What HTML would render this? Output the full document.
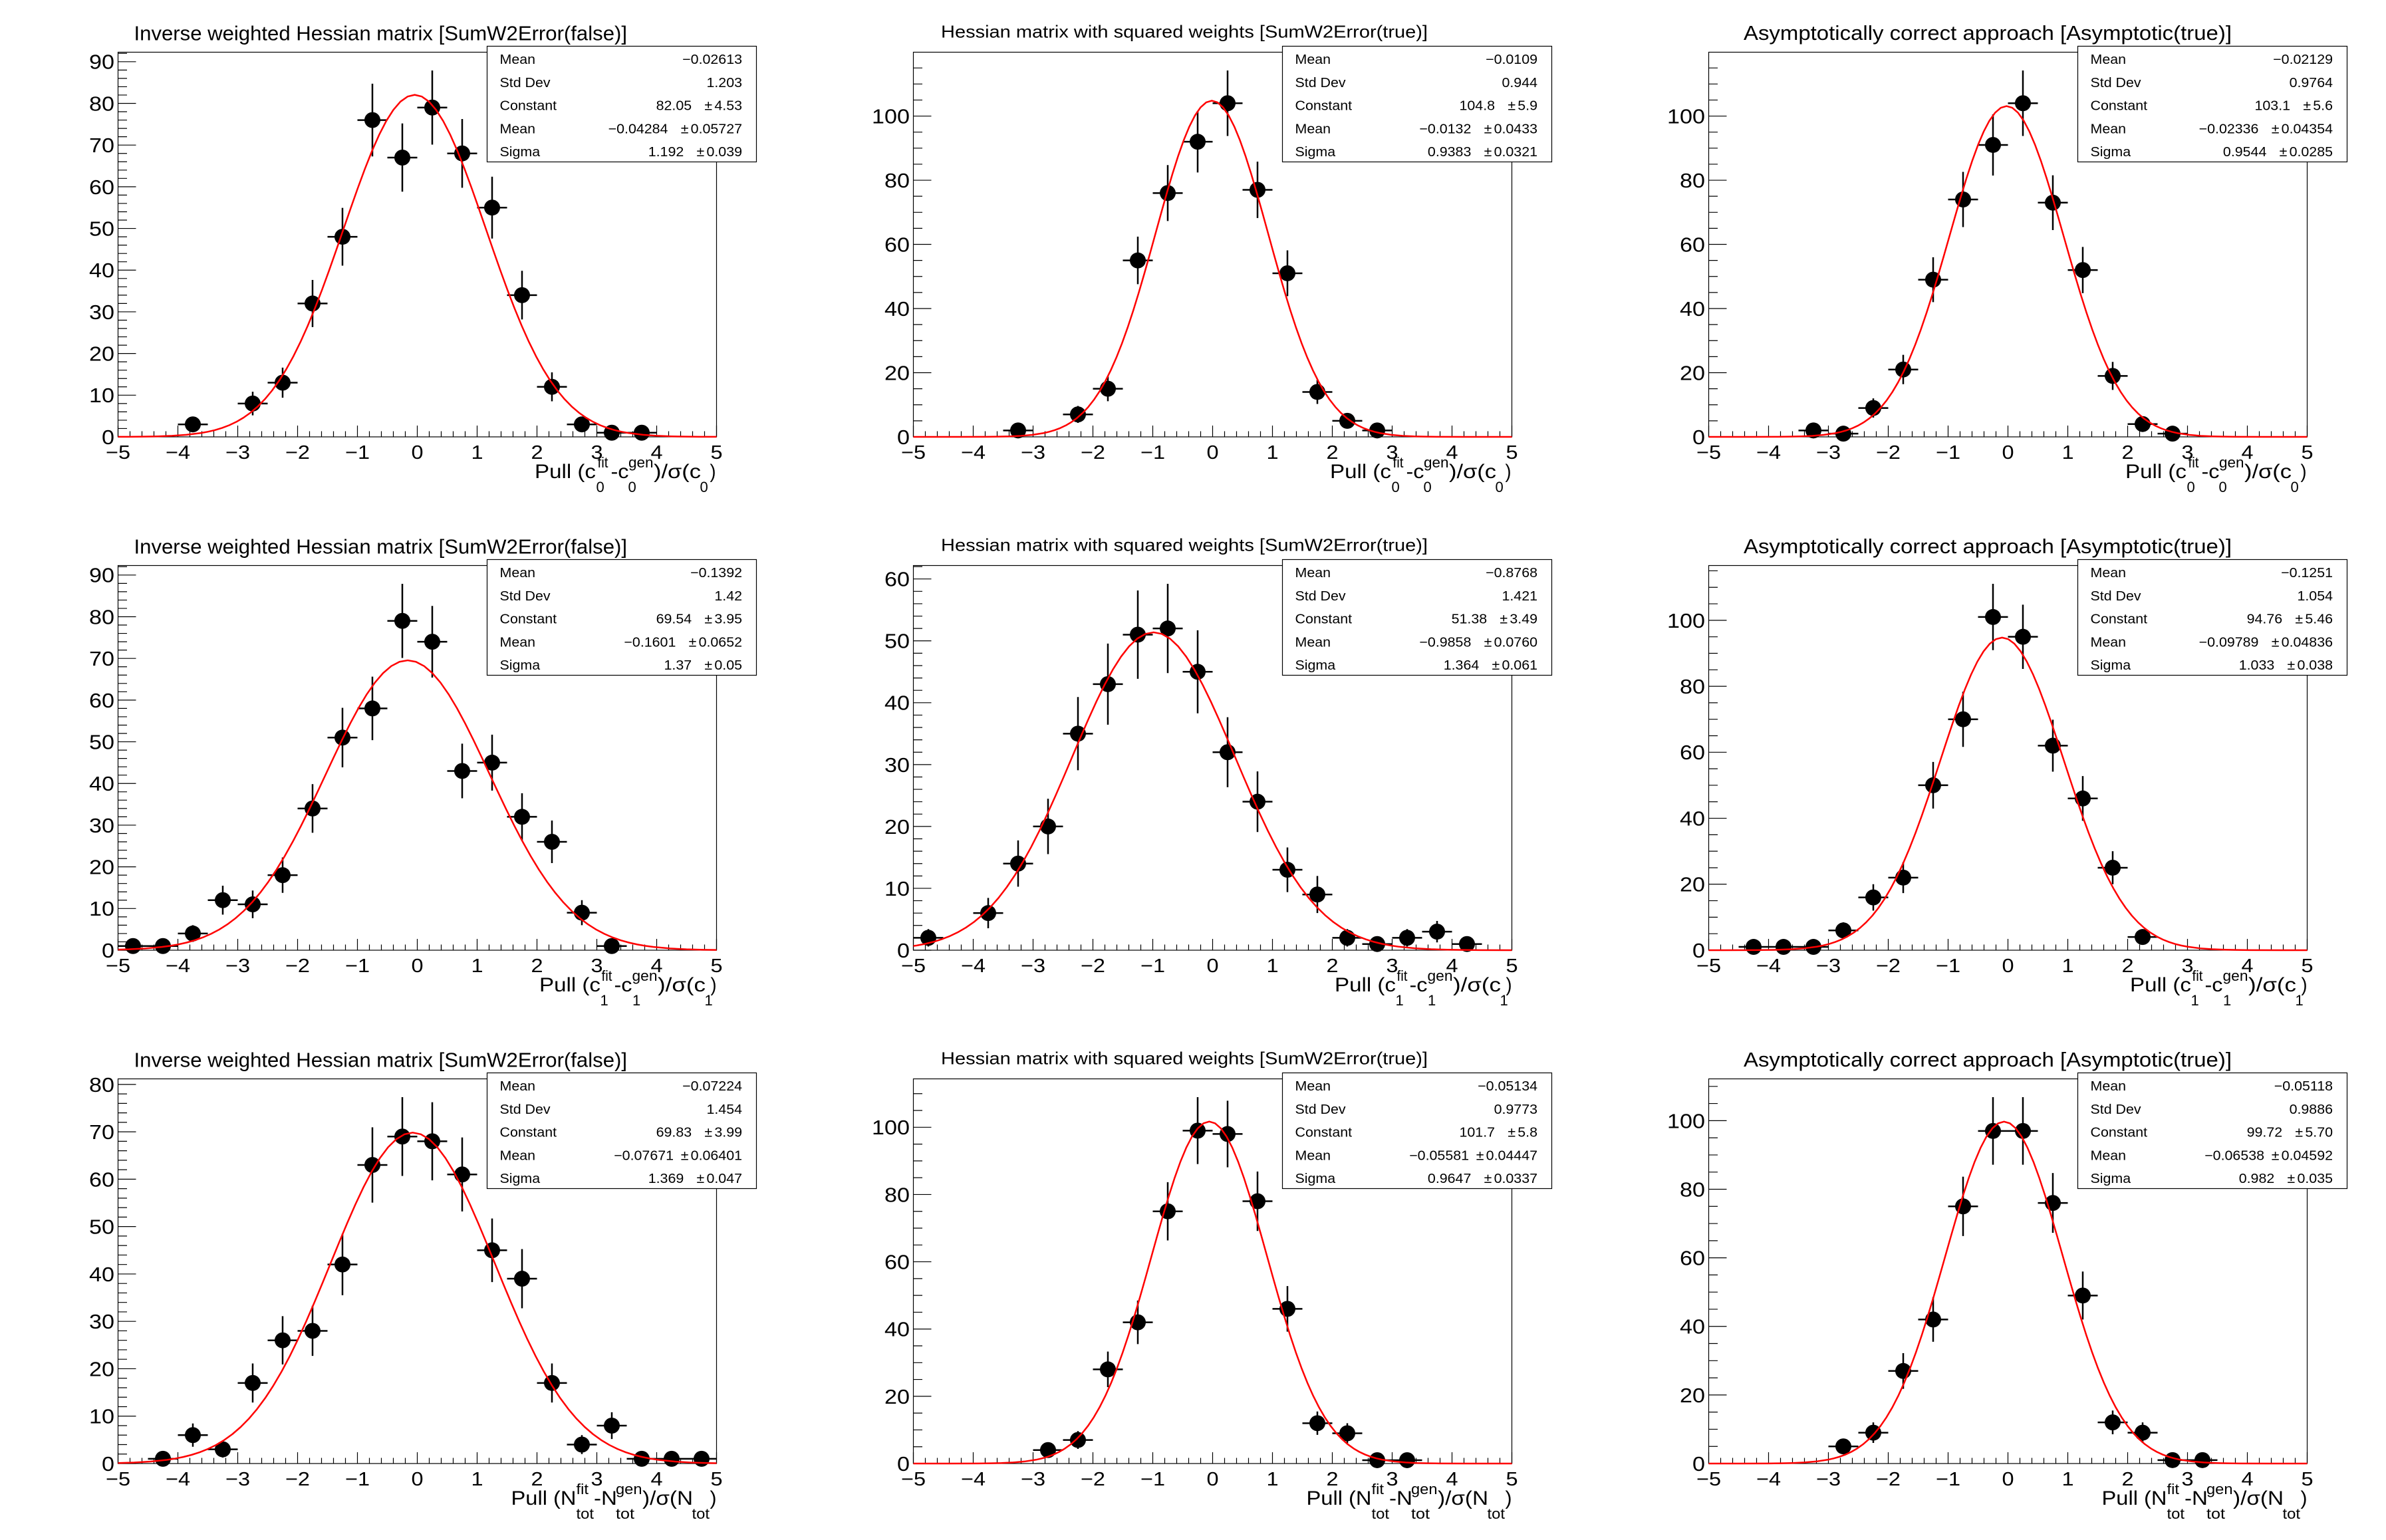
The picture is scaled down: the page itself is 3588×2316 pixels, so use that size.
<!DOCTYPE html>
<html><head><meta charset="utf-8"><title>Pulls</title>
<style>
html,body{margin:0;padding:0;background:#fff}
svg{display:block}
text{font-family:"Liberation Sans",Arial,Helvetica,sans-serif;fill:#000}
.eb{fill:none;stroke:#000;stroke-width:2.5}
.mk{fill:none;stroke:#000;stroke-width:24;stroke-linecap:round}
.fit{fill:none;stroke:#f00;stroke-width:2.5;vector-effect:non-scaling-stroke;stroke-linejoin:round}
.tk{fill:none;stroke:#000;stroke-width:1.2}
.sb{fill:#fff;stroke:#000;stroke-width:1.2}
</style></head><body>
<svg width="3588" height="2316" viewBox="0 0 3588 2316">
<defs>
<clipPath id="fc"><rect x="177.5" y="40" width="900" height="620"/></clipPath>
<rect id="fr" x="177.5" y="78.5" width="900" height="578.5" fill="none" stroke="#000" stroke-width="1.2"/>
<path id="xt" fill="none" stroke="#000" stroke-width="1.2" d="M177.5,657v-17M195.5,657v-8.5M213.5,657v-8.5M231.5,657v-8.5M249.5,657v-8.5M267.5,657v-17M285.5,657v-8.5M303.5,657v-8.5M321.5,657v-8.5M339.5,657v-8.5M357.5,657v-17M375.5,657v-8.5M393.5,657v-8.5M411.5,657v-8.5M429.5,657v-8.5M447.5,657v-17M465.5,657v-8.5M483.5,657v-8.5M501.5,657v-8.5M519.5,657v-8.5M537.5,657v-17M555.5,657v-8.5M573.5,657v-8.5M591.5,657v-8.5M609.5,657v-8.5M627.5,657v-17M645.5,657v-8.5M663.5,657v-8.5M681.5,657v-8.5M699.5,657v-8.5M717.5,657v-17M735.5,657v-8.5M753.5,657v-8.5M771.5,657v-8.5M789.5,657v-8.5M807.5,657v-17M825.5,657v-8.5M843.5,657v-8.5M861.5,657v-8.5M879.5,657v-8.5M897.5,657v-17M915.5,657v-8.5M933.5,657v-8.5M951.5,657v-8.5M969.5,657v-8.5M987.5,657v-17M1005.5,657v-8.5M1023.5,657v-8.5M1041.5,657v-8.5M1059.5,657v-8.5M1077.5,657v-17"/>
<path id="yt14" fill="none" stroke="#000" stroke-width="1.2" d="M177.5,657h27M177.5,594.31h27M177.5,531.62h27M177.5,468.94h27M177.5,406.25h27M177.5,343.56h27M177.5,280.87h27M177.5,218.18h27M177.5,155.5h27M177.5,92.81h27M177.5,644.46h13.5M177.5,631.92h13.5M177.5,619.39h13.5M177.5,606.85h13.5M177.5,581.77h13.5M177.5,569.24h13.5M177.5,556.7h13.5M177.5,544.16h13.5M177.5,519.09h13.5M177.5,506.55h13.5M177.5,494.01h13.5M177.5,481.47h13.5M177.5,456.4h13.5M177.5,443.86h13.5M177.5,431.32h13.5M177.5,418.79h13.5M177.5,393.71h13.5M177.5,381.17h13.5M177.5,368.64h13.5M177.5,356.1h13.5M177.5,331.02h13.5M177.5,318.48h13.5M177.5,305.95h13.5M177.5,293.41h13.5M177.5,268.33h13.5M177.5,255.8h13.5M177.5,243.26h13.5M177.5,230.72h13.5M177.5,205.65h13.5M177.5,193.11h13.5M177.5,180.57h13.5M177.5,168.03h13.5M177.5,142.96h13.5M177.5,130.42h13.5M177.5,117.88h13.5M177.5,105.35h13.5M177.5,80.27h13.5"/>
<path id="yt23" fill="none" stroke="#000" stroke-width="1.2" d="M177.5,657h27M177.5,560.51h27M177.5,464.02h27M177.5,367.53h27M177.5,271.04h27M177.5,174.55h27M177.5,632.88h13.5M177.5,608.76h13.5M177.5,584.63h13.5M177.5,536.39h13.5M177.5,512.27h13.5M177.5,488.14h13.5M177.5,439.9h13.5M177.5,415.78h13.5M177.5,391.65h13.5M177.5,343.41h13.5M177.5,319.29h13.5M177.5,295.16h13.5M177.5,246.92h13.5M177.5,222.8h13.5M177.5,198.67h13.5M177.5,150.43h13.5M177.5,126.31h13.5M177.5,102.18h13.5"/>
</defs>
<rect x="0" y="0" width="3588" height="2316" fill="#fff"/>

<!-- ============ PAD 1 ============ -->
<g transform="translate(0,0)">
<use href="#fr"/><use href="#xt"/><use href="#yt14"/>
<path class="eb" d="M290,627.33V649.05M267.5,638.19h45M380,589.12V624.58M357.5,606.85h45M425,552.91V598.11M402.5,575.51h45M470,420.94V491.86M447.5,456.4h45M515,312.67V399.53M492.5,356.1h45M560,125.92V235.22M537.5,180.57h45M605,185.68V288.3M582.5,236.99h45M650,106.04V217.48M627.5,161.76h45M695,179.03V282.41M672.5,230.72h45M740,265.73V358.71M717.5,312.22h45M785,407.31V480.41M762.5,443.86h45M830,560.05V603.49M807.5,581.77h45M875,627.33V649.05M852.5,638.19h45M920,644.46V657M897.5,650.73h45M965,644.46V657M942.5,650.73h45"/>
<path class="mk" d="M290,638.19h0M380,606.85h0M425,575.51h0M470,456.4h0M515,356.1h0M560,180.57h0M605,236.99h0M650,161.76h0M695,230.72h0M740,312.22h0M785,443.86h0M830,581.77h0M875,638.19h0M920,650.73h0M965,650.73h0"/>
<g clip-path="url(#fc)"><path class="fit" transform="matrix(107.28,0,0,-514.36,623.64,657)" d="M-6,0L-5,0L-4.5,.00004L-4,.00034L-3.8,.00073L-3.6,.00153L-3.4,.00309L-3.2,.00598L-3,.01111L-2.9,.01492L-2.8,.01984L-2.7,.02612L-2.6,.03405L-2.5,.04394L-2.4,.05613L-2.3,.07101L-2.2,.08892L-2.1,.11025L-2,.13534L-1.9,.16447L-1.8,.1979L-1.7,.23575L-1.6,.27804L-1.5,.32465L-1.4,.37531L-1.3,.42956L-1.2,.48675L-1.1,.54607L-1,.60653L-.9,.66698L-.8,.72615L-.7,.7827L-.6,.83527L-.5,.8825L-.4,.92312L-.3,.956L-.2,.9802L-.1,.99501L0,1L.1,.99501L.2,.9802L.3,.956L.4,.92312L.5,.8825L.6,.83527L.7,.7827L.8,.72615L.9,.66698L1,.60653L1.1,.54607L1.2,.48675L1.3,.42956L1.4,.37531L1.5,.32465L1.6,.27804L1.7,.23575L1.8,.1979L1.9,.16447L2,.13534L2.1,.11025L2.2,.08892L2.3,.07101L2.4,.05613L2.5,.04394L2.6,.03405L2.7,.02612L2.8,.01984L2.9,.01492L3,.01111L3.2,.00598L3.4,.00309L3.6,.00153L3.8,.00073L4,.00034L4.5,.00004L5,0L6,0"/></g>
<g transform="translate(177.5,690) scale(1.12,1)" font-size="29" text-anchor="middle"><text x="0">−5</text><text x="80.36">−4</text><text x="160.71">−3</text><text x="241.07">−2</text><text x="321.43">−1</text><text x="401.79">0</text><text x="482.14">1</text><text x="562.5">2</text><text x="642.86">3</text><text x="723.21">4</text><text x="803.57">5</text></g>
<g transform="translate(172,0) scale(1.12,1)" font-size="30.5" text-anchor="end"><text y="667.9">0</text><text y="605.2">10</text><text y="542.5">20</text><text y="479.8">30</text><text y="417.2">40</text><text y="354.5">50</text><text y="291.8">60</text><text y="229.1">70</text><text y="166.4">80</text><text y="103.7">90</text></g>
<g font-size="30"><text x="804" y="719" textLength="92" lengthAdjust="spacingAndGlyphs">Pull (c</text><text x="918.5" y="719" textLength="27" lengthAdjust="spacingAndGlyphs">-c</text><text x="983" y="719" textLength="71" lengthAdjust="spacingAndGlyphs">)/σ(c</text><text x="1067.5" y="719" textLength="9" lengthAdjust="spacingAndGlyphs">)</text></g>
<g font-size="22"><text x="898.5" y="703" textLength="16" lengthAdjust="spacingAndGlyphs">fit</text><text x="896.5" y="740">0</text><text x="945" y="703" textLength="37.5" lengthAdjust="spacingAndGlyphs">gen</text><text x="944.5" y="740">0</text><text x="1052.5" y="740">0</text></g>
<rect class="sb" x="732.5" y="69.5" width="405" height="174"/>
<g font-size="20" transform="translate(751.5,0) scale(1.07,1)"><text y="96">Mean</text><text y="130.8">Std Dev</text><text y="165.6">Constant</text><text y="200.4">Mean</text><text y="235.2">Sigma</text></g>
<g font-size="20" text-anchor="end" transform="translate(1116,0) scale(1.07,1)"><text y="96">−0.02613</text><text y="130.8">1.203</text><text y="165.6">82.05<tspan dx="18">±</tspan><tspan dx="3">4.53</tspan></text><text y="200.4">−0.04284<tspan dx="18">±</tspan><tspan dx="3">0.05727</tspan></text><text y="235.2">1.192<tspan dx="18">±</tspan><tspan dx="3">0.039</tspan></text></g>
<text x="201.5" y="60.7" font-size="31" textLength="741.5" lengthAdjust="spacingAndGlyphs">Inverse weighted Hessian matrix [SumW2Error(false)]</text>
</g>

<!-- ============ PAD 2 ============ -->
<g transform="translate(1196,0)">
<use href="#fr"/><use href="#xt"/><use href="#yt23"/>
<path class="eb" d="M335,640.53V654.17M312.5,647.35h45M425,610.46V636M402.5,623.23h45M470,565.94V603.32M447.5,584.63h45M515,355.87V427.43M492.5,391.65h45M560,248.28V332.4M537.5,290.34h45M605,166.87V259.43M582.5,213.15h45M650,106.05V204.45M627.5,155.25h45M695,243.17V327.85M672.5,285.51h45M740,376.5V445.4M717.5,410.95h45M785,571.41V607.51M762.5,589.46h45M830,622.09V643.67M807.5,632.88h45M875,640.53V654.17M852.5,647.35h45"/>
<path class="mk" d="M335,647.35h0M425,623.23h0M470,584.63h0M515,391.65h0M560,290.34h0M605,213.15h0M650,155.25h0M695,285.51h0M740,410.95h0M785,589.46h0M830,632.88h0M875,647.35h0"/>
<g clip-path="url(#fc)"><path class="fit" transform="matrix(84.447,0,0,-505.61,626.31,657)" d="M-6,0L-5,0L-4.5,.00004L-4,.00034L-3.8,.00073L-3.6,.00153L-3.4,.00309L-3.2,.00598L-3,.01111L-2.9,.01492L-2.8,.01984L-2.7,.02612L-2.6,.03405L-2.5,.04394L-2.4,.05613L-2.3,.07101L-2.2,.08892L-2.1,.11025L-2,.13534L-1.9,.16447L-1.8,.1979L-1.7,.23575L-1.6,.27804L-1.5,.32465L-1.4,.37531L-1.3,.42956L-1.2,.48675L-1.1,.54607L-1,.60653L-.9,.66698L-.8,.72615L-.7,.7827L-.6,.83527L-.5,.8825L-.4,.92312L-.3,.956L-.2,.9802L-.1,.99501L0,1L.1,.99501L.2,.9802L.3,.956L.4,.92312L.5,.8825L.6,.83527L.7,.7827L.8,.72615L.9,.66698L1,.60653L1.1,.54607L1.2,.48675L1.3,.42956L1.4,.37531L1.5,.32465L1.6,.27804L1.7,.23575L1.8,.1979L1.9,.16447L2,.13534L2.1,.11025L2.2,.08892L2.3,.07101L2.4,.05613L2.5,.04394L2.6,.03405L2.7,.02612L2.8,.01984L2.9,.01492L3,.01111L3.2,.00598L3.4,.00309L3.6,.00153L3.8,.00073L4,.00034L4.5,.00004L5,0L6,0"/></g>
<g transform="translate(177.5,690) scale(1.12,1)" font-size="29" text-anchor="middle"><text x="0">−5</text><text x="80.36">−4</text><text x="160.71">−3</text><text x="241.07">−2</text><text x="321.43">−1</text><text x="401.79">0</text><text x="482.14">1</text><text x="562.5">2</text><text x="642.86">3</text><text x="723.21">4</text><text x="803.57">5</text></g>
<g transform="translate(172,0) scale(1.12,1)" font-size="30.5" text-anchor="end"><text y="667.9">0</text><text y="571.4">20</text><text y="474.9">40</text><text y="378.4">60</text><text y="281.9">80</text><text y="185.5">100</text></g>
<g font-size="30"><text x="804" y="719" textLength="92" lengthAdjust="spacingAndGlyphs">Pull (c</text><text x="918.5" y="719" textLength="27" lengthAdjust="spacingAndGlyphs">-c</text><text x="983" y="719" textLength="71" lengthAdjust="spacingAndGlyphs">)/σ(c</text><text x="1067.5" y="719" textLength="9" lengthAdjust="spacingAndGlyphs">)</text></g>
<g font-size="22"><text x="898.5" y="703" textLength="16" lengthAdjust="spacingAndGlyphs">fit</text><text x="896.5" y="740">0</text><text x="945" y="703" textLength="37.5" lengthAdjust="spacingAndGlyphs">gen</text><text x="944.5" y="740">0</text><text x="1052.5" y="740">0</text></g>
<rect class="sb" x="732.5" y="69.5" width="405" height="174"/>
<g font-size="20" transform="translate(751.5,0) scale(1.07,1)"><text y="96">Mean</text><text y="130.8">Std Dev</text><text y="165.6">Constant</text><text y="200.4">Mean</text><text y="235.2">Sigma</text></g>
<g font-size="20" text-anchor="end" transform="translate(1116,0) scale(1.07,1)"><text y="96">−0.0109</text><text y="130.8">0.944</text><text y="165.6">104.8<tspan dx="18">±</tspan><tspan dx="3">5.9</tspan></text><text y="200.4">−0.0132<tspan dx="18">±</tspan><tspan dx="3">0.0433</tspan></text><text y="235.2">0.9383<tspan dx="18">±</tspan><tspan dx="3">0.0321</tspan></text></g>
<text x="219" y="56.7" font-size="25.6" textLength="732" lengthAdjust="spacingAndGlyphs">Hessian matrix with squared weights [SumW2Error(true)]</text>
</g>

<!-- ============ PAD 3 ============ -->
<g transform="translate(2392,0)">
<use href="#fr"/><use href="#xt"/><use href="#yt23"/>
<path class="eb" d="M335,640.53V654.17M312.5,647.35h45M380,647.36V657M357.5,652.18h45M425,599.11V628.05M402.5,613.58h45M470,533.58V577.8M447.5,555.69h45M515,386.83V454.37M492.5,420.6h45M560,258.49V341.49M537.5,299.99h45M605,171.95V263.99M582.5,217.97h45M650,106.05V204.45M627.5,155.25h45M695,263.59V346.03M672.5,304.81h45M740,371.34V440.92M717.5,406.13h45M785,544.3V586.36M762.5,565.33h45M830,628.05V647.35M807.5,637.7h45M875,647.36V657M852.5,652.18h45"/>
<path class="mk" d="M335,647.35h0M380,652.18h0M425,613.58h0M470,555.69h0M515,420.6h0M560,299.99h0M605,217.97h0M650,155.25h0M695,304.81h0M740,406.13h0M785,565.33h0M830,637.7h0M875,652.18h0"/>
<g clip-path="url(#fc)"><path class="fit" transform="matrix(85.896,0,0,-497.41,625.4,657)" d="M-6,0L-5,0L-4.5,.00004L-4,.00034L-3.8,.00073L-3.6,.00153L-3.4,.00309L-3.2,.00598L-3,.01111L-2.9,.01492L-2.8,.01984L-2.7,.02612L-2.6,.03405L-2.5,.04394L-2.4,.05613L-2.3,.07101L-2.2,.08892L-2.1,.11025L-2,.13534L-1.9,.16447L-1.8,.1979L-1.7,.23575L-1.6,.27804L-1.5,.32465L-1.4,.37531L-1.3,.42956L-1.2,.48675L-1.1,.54607L-1,.60653L-.9,.66698L-.8,.72615L-.7,.7827L-.6,.83527L-.5,.8825L-.4,.92312L-.3,.956L-.2,.9802L-.1,.99501L0,1L.1,.99501L.2,.9802L.3,.956L.4,.92312L.5,.8825L.6,.83527L.7,.7827L.8,.72615L.9,.66698L1,.60653L1.1,.54607L1.2,.48675L1.3,.42956L1.4,.37531L1.5,.32465L1.6,.27804L1.7,.23575L1.8,.1979L1.9,.16447L2,.13534L2.1,.11025L2.2,.08892L2.3,.07101L2.4,.05613L2.5,.04394L2.6,.03405L2.7,.02612L2.8,.01984L2.9,.01492L3,.01111L3.2,.00598L3.4,.00309L3.6,.00153L3.8,.00073L4,.00034L4.5,.00004L5,0L6,0"/></g>
<g transform="translate(177.5,690) scale(1.12,1)" font-size="29" text-anchor="middle"><text x="0">−5</text><text x="80.36">−4</text><text x="160.71">−3</text><text x="241.07">−2</text><text x="321.43">−1</text><text x="401.79">0</text><text x="482.14">1</text><text x="562.5">2</text><text x="642.86">3</text><text x="723.21">4</text><text x="803.57">5</text></g>
<g transform="translate(172,0) scale(1.12,1)" font-size="30.5" text-anchor="end"><text y="667.9">0</text><text y="571.4">20</text><text y="474.9">40</text><text y="378.4">60</text><text y="281.9">80</text><text y="185.5">100</text></g>
<g font-size="30"><text x="804" y="719" textLength="92" lengthAdjust="spacingAndGlyphs">Pull (c</text><text x="918.5" y="719" textLength="27" lengthAdjust="spacingAndGlyphs">-c</text><text x="983" y="719" textLength="71" lengthAdjust="spacingAndGlyphs">)/σ(c</text><text x="1067.5" y="719" textLength="9" lengthAdjust="spacingAndGlyphs">)</text></g>
<g font-size="22"><text x="898.5" y="703" textLength="16" lengthAdjust="spacingAndGlyphs">fit</text><text x="896.5" y="740">0</text><text x="945" y="703" textLength="37.5" lengthAdjust="spacingAndGlyphs">gen</text><text x="944.5" y="740">0</text><text x="1052.5" y="740">0</text></g>
<rect class="sb" x="732.5" y="69.5" width="405" height="174"/>
<g font-size="20" transform="translate(751.5,0) scale(1.07,1)"><text y="96">Mean</text><text y="130.8">Std Dev</text><text y="165.6">Constant</text><text y="200.4">Mean</text><text y="235.2">Sigma</text></g>
<g font-size="20" text-anchor="end" transform="translate(1116,0) scale(1.07,1)"><text y="96">−0.02129</text><text y="130.8">0.9764</text><text y="165.6">103.1<tspan dx="18">±</tspan><tspan dx="3">5.6</tspan></text><text y="200.4">−0.02336<tspan dx="18">±</tspan><tspan dx="3">0.04354</tspan></text><text y="235.2">0.9544<tspan dx="18">±</tspan><tspan dx="3">0.0285</tspan></text></g>
<text x="230" y="60" font-size="31" textLength="734" lengthAdjust="spacingAndGlyphs">Asymptotically correct approach [Asymptotic(true)]</text>
</g>

<!-- ============ PAD 4 ============ -->
<g transform="translate(0,772)">
<use href="#fr"/><use href="#xt"/><use href="#yt14"/>
<path class="eb" d="M200,644.46V657M177.5,650.73h45M245,644.46V657M222.5,650.73h45M290,619.38V644.46M267.5,631.92h45M335,560.05V603.49M312.5,581.77h45M380,567.25V608.83M357.5,588.04h45M425,517.56V570.76M402.5,544.16h45M470,407.31V480.41M447.5,443.86h45M515,292.52V382.06M492.5,337.29h45M560,245.67V341.15M537.5,293.41h45M605,106.04V217.48M582.5,161.76h45M650,139.19V247.03M627.5,193.11h45M695,346.34V428.54M672.5,387.44h45M740,332.85V416.95M717.5,374.9h45M785,420.94V491.86M762.5,456.4h45M830,462.05V525.97M807.5,494.01h45M875,581.77V619.39M852.5,600.58h45M920,644.46V657M897.5,650.73h45"/>
<path class="mk" d="M200,650.73h0M245,650.73h0M290,631.92h0M335,581.77h0M380,588.04h0M425,544.16h0M470,443.86h0M515,337.29h0M560,293.41h0M605,161.76h0M650,193.11h0M695,387.44h0M740,374.9h0M785,456.4h0M830,494.01h0M875,600.58h0M920,650.73h0"/>
<g clip-path="url(#fc)"><path class="fit" transform="matrix(123.3,0,0,-435.93,613.09,657)" d="M-6,0L-5,0L-4.5,.00004L-4,.00034L-3.8,.00073L-3.6,.00153L-3.4,.00309L-3.2,.00598L-3,.01111L-2.9,.01492L-2.8,.01984L-2.7,.02612L-2.6,.03405L-2.5,.04394L-2.4,.05613L-2.3,.07101L-2.2,.08892L-2.1,.11025L-2,.13534L-1.9,.16447L-1.8,.1979L-1.7,.23575L-1.6,.27804L-1.5,.32465L-1.4,.37531L-1.3,.42956L-1.2,.48675L-1.1,.54607L-1,.60653L-.9,.66698L-.8,.72615L-.7,.7827L-.6,.83527L-.5,.8825L-.4,.92312L-.3,.956L-.2,.9802L-.1,.99501L0,1L.1,.99501L.2,.9802L.3,.956L.4,.92312L.5,.8825L.6,.83527L.7,.7827L.8,.72615L.9,.66698L1,.60653L1.1,.54607L1.2,.48675L1.3,.42956L1.4,.37531L1.5,.32465L1.6,.27804L1.7,.23575L1.8,.1979L1.9,.16447L2,.13534L2.1,.11025L2.2,.08892L2.3,.07101L2.4,.05613L2.5,.04394L2.6,.03405L2.7,.02612L2.8,.01984L2.9,.01492L3,.01111L3.2,.00598L3.4,.00309L3.6,.00153L3.8,.00073L4,.00034L4.5,.00004L5,0L6,0"/></g>
<g transform="translate(177.5,690) scale(1.12,1)" font-size="29" text-anchor="middle"><text x="0">−5</text><text x="80.36">−4</text><text x="160.71">−3</text><text x="241.07">−2</text><text x="321.43">−1</text><text x="401.79">0</text><text x="482.14">1</text><text x="562.5">2</text><text x="642.86">3</text><text x="723.21">4</text><text x="803.57">5</text></g>
<g transform="translate(172,0) scale(1.12,1)" font-size="30.5" text-anchor="end"><text y="667.9">0</text><text y="605.2">10</text><text y="542.5">20</text><text y="479.8">30</text><text y="417.2">40</text><text y="354.5">50</text><text y="291.8">60</text><text y="229.1">70</text><text y="166.4">80</text><text y="103.7">90</text></g>
<g font-size="30"><text x="811" y="719" textLength="92" lengthAdjust="spacingAndGlyphs">Pull (c</text><text x="923.5" y="719" textLength="27" lengthAdjust="spacingAndGlyphs">-c</text><text x="989" y="719" textLength="72" lengthAdjust="spacingAndGlyphs">)/σ(c</text><text x="1068.5" y="719" textLength="9" lengthAdjust="spacingAndGlyphs">)</text></g>
<g font-size="22"><text x="904.5" y="703" textLength="16" lengthAdjust="spacingAndGlyphs">fit</text><text x="902.5" y="740">1</text><text x="950.5" y="703" textLength="38" lengthAdjust="spacingAndGlyphs">gen</text><text x="951" y="740">1</text><text x="1059.5" y="740">1</text></g>
<rect class="sb" x="732.5" y="69.5" width="405" height="174"/>
<g font-size="20" transform="translate(751.5,0) scale(1.07,1)"><text y="96">Mean</text><text y="130.8">Std Dev</text><text y="165.6">Constant</text><text y="200.4">Mean</text><text y="235.2">Sigma</text></g>
<g font-size="20" text-anchor="end" transform="translate(1116,0) scale(1.07,1)"><text y="96">−0.1392</text><text y="130.8">1.42</text><text y="165.6">69.54<tspan dx="18">±</tspan><tspan dx="3">3.95</tspan></text><text y="200.4">−0.1601<tspan dx="18">±</tspan><tspan dx="3">0.0652</tspan></text><text y="235.2">1.37<tspan dx="18">±</tspan><tspan dx="3">0.05</tspan></text></g>
<text x="201.5" y="60.7" font-size="31" textLength="741.5" lengthAdjust="spacingAndGlyphs">Inverse weighted Hessian matrix [SumW2Error(false)]</text>
</g>

<!-- ============ PAD 5 ============ -->
<g transform="translate(1196,772)">
<use href="#fr"/><use href="#xt"/>
<path class="tk" d="M177.5,657h27M177.5,563.95h27M177.5,470.9h27M177.5,377.86h27M177.5,284.81h27M177.5,191.76h27M177.5,98.71h27M177.5,638.39h13.5M177.5,619.78h13.5M177.5,601.17h13.5M177.5,582.56h13.5M177.5,545.34h13.5M177.5,526.73h13.5M177.5,508.12h13.5M177.5,489.51h13.5M177.5,452.29h13.5M177.5,433.68h13.5M177.5,415.07h13.5M177.5,396.47h13.5M177.5,359.25h13.5M177.5,340.64h13.5M177.5,322.03h13.5M177.5,303.42h13.5M177.5,266.2h13.5M177.5,247.59h13.5M177.5,228.98h13.5M177.5,210.37h13.5M177.5,173.15h13.5M177.5,154.54h13.5M177.5,135.93h13.5M177.5,117.32h13.5M177.5,80.1h13.5"/>
<path class="eb" d="M200,625.23V651.55M177.5,638.39h45M290,578.38V623.96M267.5,601.17h45M335,491.91V561.55M312.5,526.73h45M380,429.29V512.51M357.5,470.9h45M425,276.28V386.38M402.5,331.33h45M470,195.88V317.9M447.5,256.89h45M515,116.01V248.91M492.5,182.46h45M560,106.05V240.25M537.5,173.15h45M605,175.86V300.7M582.5,238.28h45M650,306.61V411.89M627.5,359.25h45M695,388.1V479.26M672.5,433.68h45M740,502.49V569.59M717.5,536.04h45M785,545.35V601.17M762.5,573.26h45M830,625.23V651.55M807.5,638.39h45M875,638.4V657M852.5,647.7h45M920,625.23V651.55M897.5,638.39h45M965,612.97V645.21M942.5,629.09h45M1010,638.4V657M987.5,647.7h45"/>
<path class="mk" d="M200,638.39h0M290,601.17h0M335,526.73h0M380,470.9h0M425,331.33h0M470,256.89h0M515,182.46h0M560,173.15h0M605,238.28h0M650,359.25h0M695,433.68h0M740,536.04h0M785,573.26h0M830,638.39h0M875,647.7h0M920,638.39h0M965,629.09h0M1010,647.7h0"/>
<g clip-path="url(#fc)"><path class="fit" transform="matrix(122.76,0,0,-478.08,538.78,657)" d="M-6,0L-5,0L-4.5,.00004L-4,.00034L-3.8,.00073L-3.6,.00153L-3.4,.00309L-3.2,.00598L-3,.01111L-2.9,.01492L-2.8,.01984L-2.7,.02612L-2.6,.03405L-2.5,.04394L-2.4,.05613L-2.3,.07101L-2.2,.08892L-2.1,.11025L-2,.13534L-1.9,.16447L-1.8,.1979L-1.7,.23575L-1.6,.27804L-1.5,.32465L-1.4,.37531L-1.3,.42956L-1.2,.48675L-1.1,.54607L-1,.60653L-.9,.66698L-.8,.72615L-.7,.7827L-.6,.83527L-.5,.8825L-.4,.92312L-.3,.956L-.2,.9802L-.1,.99501L0,1L.1,.99501L.2,.9802L.3,.956L.4,.92312L.5,.8825L.6,.83527L.7,.7827L.8,.72615L.9,.66698L1,.60653L1.1,.54607L1.2,.48675L1.3,.42956L1.4,.37531L1.5,.32465L1.6,.27804L1.7,.23575L1.8,.1979L1.9,.16447L2,.13534L2.1,.11025L2.2,.08892L2.3,.07101L2.4,.05613L2.5,.04394L2.6,.03405L2.7,.02612L2.8,.01984L2.9,.01492L3,.01111L3.2,.00598L3.4,.00309L3.6,.00153L3.8,.00073L4,.00034L4.5,.00004L5,0L6,0"/></g>
<g transform="translate(177.5,690) scale(1.12,1)" font-size="29" text-anchor="middle"><text x="0">−5</text><text x="80.36">−4</text><text x="160.71">−3</text><text x="241.07">−2</text><text x="321.43">−1</text><text x="401.79">0</text><text x="482.14">1</text><text x="562.5">2</text><text x="642.86">3</text><text x="723.21">4</text><text x="803.57">5</text></g>
<g transform="translate(172,0) scale(1.12,1)" font-size="30.5" text-anchor="end"><text y="667.9">0</text><text y="574.9">10</text><text y="481.8">20</text><text y="388.8">30</text><text y="295.7">40</text><text y="202.7">50</text><text y="109.6">60</text></g>
<g font-size="30"><text x="811" y="719" textLength="92" lengthAdjust="spacingAndGlyphs">Pull (c</text><text x="923.5" y="719" textLength="27" lengthAdjust="spacingAndGlyphs">-c</text><text x="989" y="719" textLength="72" lengthAdjust="spacingAndGlyphs">)/σ(c</text><text x="1068.5" y="719" textLength="9" lengthAdjust="spacingAndGlyphs">)</text></g>
<g font-size="22"><text x="904.5" y="703" textLength="16" lengthAdjust="spacingAndGlyphs">fit</text><text x="902.5" y="740">1</text><text x="950.5" y="703" textLength="38" lengthAdjust="spacingAndGlyphs">gen</text><text x="951" y="740">1</text><text x="1059.5" y="740">1</text></g>
<rect class="sb" x="732.5" y="69.5" width="405" height="174"/>
<g font-size="20" transform="translate(751.5,0) scale(1.07,1)"><text y="96">Mean</text><text y="130.8">Std Dev</text><text y="165.6">Constant</text><text y="200.4">Mean</text><text y="235.2">Sigma</text></g>
<g font-size="20" text-anchor="end" transform="translate(1116,0) scale(1.07,1)"><text y="96">−0.8768</text><text y="130.8">1.421</text><text y="165.6">51.38<tspan dx="18">±</tspan><tspan dx="3">3.49</tspan></text><text y="200.4">−0.9858<tspan dx="18">±</tspan><tspan dx="3">0.0760</tspan></text><text y="235.2">1.364<tspan dx="18">±</tspan><tspan dx="3">0.061</tspan></text></g>
<text x="219" y="56.7" font-size="25.6" textLength="732" lengthAdjust="spacingAndGlyphs">Hessian matrix with squared weights [SumW2Error(true)]</text>
</g>

<!-- ============ PAD 6 ============ -->
<g transform="translate(2392,772)">
<use href="#fr"/><use href="#xt"/>
<path class="tk" d="M177.5,657h27M177.5,557.77h27M177.5,458.55h27M177.5,359.32h27M177.5,260.1h27M177.5,160.87h27M177.5,632.19h13.5M177.5,607.39h13.5M177.5,582.58h13.5M177.5,532.97h13.5M177.5,508.16h13.5M177.5,483.35h13.5M177.5,433.74h13.5M177.5,408.94h13.5M177.5,384.13h13.5M177.5,334.52h13.5M177.5,309.71h13.5M177.5,284.9h13.5M177.5,235.29h13.5M177.5,210.48h13.5M177.5,185.68h13.5M177.5,136.06h13.5M177.5,111.26h13.5M177.5,86.45h13.5"/>
<path class="eb" d="M245,647.08V657M222.5,652.04h45M290,647.08V657M267.5,652.04h45M335,647.08V657M312.5,652.04h45M380,615.08V639.38M357.5,627.23h45M425,557.77V597.47M402.5,577.62h45M470,524.58V571.12M447.5,547.85h45M515,373.85V444.01M492.5,408.93h45M560,268.2V351.22M537.5,309.71h45M605,106.05V205.77M582.5,155.91h45M650,137.32V234.04M627.5,185.68h45M695,310.33V388.47M672.5,349.4h45M740,395.13V462.43M717.5,428.78h45M785,508.16V557.78M762.5,532.97h45M830,627.23V647.07M807.5,637.15h45"/>
<path class="mk" d="M245,652.04h0M290,652.04h0M335,652.04h0M380,627.23h0M425,577.62h0M470,547.85h0M515,408.93h0M560,309.71h0M605,155.91h0M650,185.68h0M695,349.4h0M740,428.78h0M785,532.97h0M830,637.15h0"/>
<g clip-path="url(#fc)"><path class="fit" transform="matrix(92.97,0,0,-470.13,618.69,657)" d="M-6,0L-5,0L-4.5,.00004L-4,.00034L-3.8,.00073L-3.6,.00153L-3.4,.00309L-3.2,.00598L-3,.01111L-2.9,.01492L-2.8,.01984L-2.7,.02612L-2.6,.03405L-2.5,.04394L-2.4,.05613L-2.3,.07101L-2.2,.08892L-2.1,.11025L-2,.13534L-1.9,.16447L-1.8,.1979L-1.7,.23575L-1.6,.27804L-1.5,.32465L-1.4,.37531L-1.3,.42956L-1.2,.48675L-1.1,.54607L-1,.60653L-.9,.66698L-.8,.72615L-.7,.7827L-.6,.83527L-.5,.8825L-.4,.92312L-.3,.956L-.2,.9802L-.1,.99501L0,1L.1,.99501L.2,.9802L.3,.956L.4,.92312L.5,.8825L.6,.83527L.7,.7827L.8,.72615L.9,.66698L1,.60653L1.1,.54607L1.2,.48675L1.3,.42956L1.4,.37531L1.5,.32465L1.6,.27804L1.7,.23575L1.8,.1979L1.9,.16447L2,.13534L2.1,.11025L2.2,.08892L2.3,.07101L2.4,.05613L2.5,.04394L2.6,.03405L2.7,.02612L2.8,.01984L2.9,.01492L3,.01111L3.2,.00598L3.4,.00309L3.6,.00153L3.8,.00073L4,.00034L4.5,.00004L5,0L6,0"/></g>
<g transform="translate(177.5,690) scale(1.12,1)" font-size="29" text-anchor="middle"><text x="0">−5</text><text x="80.36">−4</text><text x="160.71">−3</text><text x="241.07">−2</text><text x="321.43">−1</text><text x="401.79">0</text><text x="482.14">1</text><text x="562.5">2</text><text x="642.86">3</text><text x="723.21">4</text><text x="803.57">5</text></g>
<g transform="translate(172,0) scale(1.12,1)" font-size="30.5" text-anchor="end"><text y="667.9">0</text><text y="568.7">20</text><text y="469.5">40</text><text y="370.2">60</text><text y="271">80</text><text y="171.8">100</text></g>
<g font-size="30"><text x="811" y="719" textLength="92" lengthAdjust="spacingAndGlyphs">Pull (c</text><text x="923.5" y="719" textLength="27" lengthAdjust="spacingAndGlyphs">-c</text><text x="989" y="719" textLength="72" lengthAdjust="spacingAndGlyphs">)/σ(c</text><text x="1068.5" y="719" textLength="9" lengthAdjust="spacingAndGlyphs">)</text></g>
<g font-size="22"><text x="904.5" y="703" textLength="16" lengthAdjust="spacingAndGlyphs">fit</text><text x="902.5" y="740">1</text><text x="950.5" y="703" textLength="38" lengthAdjust="spacingAndGlyphs">gen</text><text x="951" y="740">1</text><text x="1059.5" y="740">1</text></g>
<rect class="sb" x="732.5" y="69.5" width="405" height="174"/>
<g font-size="20" transform="translate(751.5,0) scale(1.07,1)"><text y="96">Mean</text><text y="130.8">Std Dev</text><text y="165.6">Constant</text><text y="200.4">Mean</text><text y="235.2">Sigma</text></g>
<g font-size="20" text-anchor="end" transform="translate(1116,0) scale(1.07,1)"><text y="96">−0.1251</text><text y="130.8">1.054</text><text y="165.6">94.76<tspan dx="18">±</tspan><tspan dx="3">5.46</tspan></text><text y="200.4">−0.09789<tspan dx="18">±</tspan><tspan dx="3">0.04836</tspan></text><text y="235.2">1.033<tspan dx="18">±</tspan><tspan dx="3">0.038</tspan></text></g>
<text x="230" y="60" font-size="31" textLength="734" lengthAdjust="spacingAndGlyphs">Asymptotically correct approach [Asymptotic(true)]</text>
</g>

<!-- ============ PAD 7 ============ -->
<g transform="translate(0,1544)">
<use href="#fr"/><use href="#xt"/>
<path class="tk" d="M177.5,657h27M177.5,585.73h27M177.5,514.46h27M177.5,443.19h27M177.5,371.92h27M177.5,300.66h27M177.5,229.39h27M177.5,158.12h27M177.5,86.85h27M177.5,642.75h13.5M177.5,628.49h13.5M177.5,614.24h13.5M177.5,599.98h13.5M177.5,571.48h13.5M177.5,557.22h13.5M177.5,542.97h13.5M177.5,528.72h13.5M177.5,500.21h13.5M177.5,485.95h13.5M177.5,471.7h13.5M177.5,457.45h13.5M177.5,428.94h13.5M177.5,414.68h13.5M177.5,400.43h13.5M177.5,386.18h13.5M177.5,357.67h13.5M177.5,343.42h13.5M177.5,329.16h13.5M177.5,314.91h13.5M177.5,286.4h13.5M177.5,272.15h13.5M177.5,257.89h13.5M177.5,243.64h13.5M177.5,215.13h13.5M177.5,200.88h13.5M177.5,186.62h13.5M177.5,172.37h13.5M177.5,143.86h13.5M177.5,129.61h13.5M177.5,115.36h13.5M177.5,101.1h13.5"/>
<path class="eb" d="M245,642.74V657M222.5,649.87h45M290,596.79V631.69M267.5,614.24h45M335,623.28V647.96M312.5,635.62h45M380,506.46V565.22M357.5,535.84h45M425,435.36V508.04M402.5,471.7h45M470,419.73V495.17M447.5,457.45h45M515,311.48V403.86M492.5,357.67h45M560,151.43V264.57M537.5,208h45M605,106.04V224.44M582.5,165.24h45M650,113.6V231.14M627.5,172.37h45M695,166.6V277.92M672.5,222.26h45M740,288.48V384.1M717.5,336.29h45M785,334.54V423.56M762.5,379.05h45M830,506.46V565.22M807.5,535.84h45M875,614.24V642.74M852.5,628.49h45M920,579.82V620.14M897.5,599.98h45M965,642.74V657M942.5,649.87h45M1010,642.74V657M987.5,649.87h45M1055,642.74V657M1032.5,649.87h45"/>
<path class="mk" d="M245,649.87h0M290,614.24h0M335,635.62h0M380,535.84h0M425,471.7h0M470,457.45h0M515,357.67h0M560,208h0M605,165.24h0M650,172.37h0M695,222.26h0M740,336.29h0M785,379.05h0M830,535.84h0M875,628.49h0M920,599.98h0M965,649.87h0M1010,649.87h0M1055,649.87h0"/>
<g clip-path="url(#fc)"><path class="fit" transform="matrix(123.21,0,0,-497.67,620.6,657)" d="M-6,0L-5,0L-4.5,.00004L-4,.00034L-3.8,.00073L-3.6,.00153L-3.4,.00309L-3.2,.00598L-3,.01111L-2.9,.01492L-2.8,.01984L-2.7,.02612L-2.6,.03405L-2.5,.04394L-2.4,.05613L-2.3,.07101L-2.2,.08892L-2.1,.11025L-2,.13534L-1.9,.16447L-1.8,.1979L-1.7,.23575L-1.6,.27804L-1.5,.32465L-1.4,.37531L-1.3,.42956L-1.2,.48675L-1.1,.54607L-1,.60653L-.9,.66698L-.8,.72615L-.7,.7827L-.6,.83527L-.5,.8825L-.4,.92312L-.3,.956L-.2,.9802L-.1,.99501L0,1L.1,.99501L.2,.9802L.3,.956L.4,.92312L.5,.8825L.6,.83527L.7,.7827L.8,.72615L.9,.66698L1,.60653L1.1,.54607L1.2,.48675L1.3,.42956L1.4,.37531L1.5,.32465L1.6,.27804L1.7,.23575L1.8,.1979L1.9,.16447L2,.13534L2.1,.11025L2.2,.08892L2.3,.07101L2.4,.05613L2.5,.04394L2.6,.03405L2.7,.02612L2.8,.01984L2.9,.01492L3,.01111L3.2,.00598L3.4,.00309L3.6,.00153L3.8,.00073L4,.00034L4.5,.00004L5,0L6,0"/></g>
<g transform="translate(177.5,690) scale(1.12,1)" font-size="29" text-anchor="middle"><text x="0">−5</text><text x="80.36">−4</text><text x="160.71">−3</text><text x="241.07">−2</text><text x="321.43">−1</text><text x="401.79">0</text><text x="482.14">1</text><text x="562.5">2</text><text x="642.86">3</text><text x="723.21">4</text><text x="803.57">5</text></g>
<g transform="translate(172,0) scale(1.12,1)" font-size="30.5" text-anchor="end"><text y="667.9">0</text><text y="596.6">10</text><text y="525.4">20</text><text y="454.1">30</text><text y="382.8">40</text><text y="311.6">50</text><text y="240.3">60</text><text y="169">70</text><text y="97.8">80</text></g>
<g font-size="30"><text x="768.5" y="719" textLength="98" lengthAdjust="spacingAndGlyphs">Pull (N</text><text x="893" y="719" textLength="35" lengthAdjust="spacingAndGlyphs">-N</text><text x="966" y="719" textLength="76" lengthAdjust="spacingAndGlyphs">)/σ(N</text><text x="1067.5" y="719" textLength="10" lengthAdjust="spacingAndGlyphs">)</text></g>
<g font-size="22"><text x="866.5" y="703" textLength="18.5" lengthAdjust="spacingAndGlyphs">fit</text><text x="866.5" y="740" textLength="26.5" lengthAdjust="spacingAndGlyphs">tot</text><text x="926" y="703" textLength="39.5" lengthAdjust="spacingAndGlyphs">gen</text><text x="926" y="740" textLength="28" lengthAdjust="spacingAndGlyphs">tot</text><text x="1040.5" y="740" textLength="26.5" lengthAdjust="spacingAndGlyphs">tot</text></g>
<rect class="sb" x="732.5" y="69.5" width="405" height="174"/>
<g font-size="20" transform="translate(751.5,0) scale(1.07,1)"><text y="96">Mean</text><text y="130.8">Std Dev</text><text y="165.6">Constant</text><text y="200.4">Mean</text><text y="235.2">Sigma</text></g>
<g font-size="20" text-anchor="end" transform="translate(1116,0) scale(1.07,1)"><text y="96">−0.07224</text><text y="130.8">1.454</text><text y="165.6">69.83<tspan dx="18">±</tspan><tspan dx="3">3.99</tspan></text><text y="200.4">−0.07671<tspan dx="10">±</tspan><tspan dx="3">0.06401</tspan></text><text y="235.2">1.369<tspan dx="18">±</tspan><tspan dx="3">0.047</tspan></text></g>
<text x="201.5" y="60.7" font-size="31" textLength="741.5" lengthAdjust="spacingAndGlyphs">Inverse weighted Hessian matrix [SumW2Error(false)]</text>
</g>

<!-- ============ PAD 8 ============ -->
<g transform="translate(1196,1544)">
<use href="#fr"/><use href="#xt"/>
<path class="tk" d="M177.5,657h27M177.5,555.86h27M177.5,454.72h27M177.5,353.58h27M177.5,252.44h27M177.5,151.3h27M177.5,631.72h13.5M177.5,606.43h13.5M177.5,581.15h13.5M177.5,530.58h13.5M177.5,505.29h13.5M177.5,480.01h13.5M177.5,429.44h13.5M177.5,404.15h13.5M177.5,378.87h13.5M177.5,328.3h13.5M177.5,303.01h13.5M177.5,277.73h13.5M177.5,227.16h13.5M177.5,201.87h13.5M177.5,176.59h13.5M177.5,126.02h13.5M177.5,100.73h13.5"/>
<path class="eb" d="M380,626.66V646.88M357.5,636.77h45M425,608.22V634.98M402.5,621.6h45M470,488.64V542.16M447.5,515.4h45M515,411.84V477.38M492.5,444.61h45M560,233.93V321.51M537.5,277.72h45M605,106.04V206.68M582.5,156.36h45M650,111.35V211.47M627.5,161.41h45M695,217.89V307.21M672.5,262.55h45M740,390.08V458.68M717.5,424.38h45M785,578.8V613.84M762.5,596.32h45M830,596.32V626.66M807.5,611.49h45M875,646.88V657M852.5,651.94h45M920,646.88V657M897.5,651.94h45"/>
<path class="mk" d="M380,636.77h0M425,621.6h0M470,515.4h0M515,444.61h0M560,277.72h0M605,156.36h0M650,161.41h0M695,262.55h0M740,424.38h0M785,596.32h0M830,611.49h0M875,651.94h0M920,651.94h0"/>
<g clip-path="url(#fc)"><path class="fit" transform="matrix(86.823,0,0,-514.3,622.48,657)" d="M-6,0L-5,0L-4.5,.00004L-4,.00034L-3.8,.00073L-3.6,.00153L-3.4,.00309L-3.2,.00598L-3,.01111L-2.9,.01492L-2.8,.01984L-2.7,.02612L-2.6,.03405L-2.5,.04394L-2.4,.05613L-2.3,.07101L-2.2,.08892L-2.1,.11025L-2,.13534L-1.9,.16447L-1.8,.1979L-1.7,.23575L-1.6,.27804L-1.5,.32465L-1.4,.37531L-1.3,.42956L-1.2,.48675L-1.1,.54607L-1,.60653L-.9,.66698L-.8,.72615L-.7,.7827L-.6,.83527L-.5,.8825L-.4,.92312L-.3,.956L-.2,.9802L-.1,.99501L0,1L.1,.99501L.2,.9802L.3,.956L.4,.92312L.5,.8825L.6,.83527L.7,.7827L.8,.72615L.9,.66698L1,.60653L1.1,.54607L1.2,.48675L1.3,.42956L1.4,.37531L1.5,.32465L1.6,.27804L1.7,.23575L1.8,.1979L1.9,.16447L2,.13534L2.1,.11025L2.2,.08892L2.3,.07101L2.4,.05613L2.5,.04394L2.6,.03405L2.7,.02612L2.8,.01984L2.9,.01492L3,.01111L3.2,.00598L3.4,.00309L3.6,.00153L3.8,.00073L4,.00034L4.5,.00004L5,0L6,0"/></g>
<g transform="translate(177.5,690) scale(1.12,1)" font-size="29" text-anchor="middle"><text x="0">−5</text><text x="80.36">−4</text><text x="160.71">−3</text><text x="241.07">−2</text><text x="321.43">−1</text><text x="401.79">0</text><text x="482.14">1</text><text x="562.5">2</text><text x="642.86">3</text><text x="723.21">4</text><text x="803.57">5</text></g>
<g transform="translate(172,0) scale(1.12,1)" font-size="30.5" text-anchor="end"><text y="667.9">0</text><text y="566.8">20</text><text y="465.6">40</text><text y="364.5">60</text><text y="263.3">80</text><text y="162.2">100</text></g>
<g font-size="30"><text x="768.5" y="719" textLength="98" lengthAdjust="spacingAndGlyphs">Pull (N</text><text x="893" y="719" textLength="35" lengthAdjust="spacingAndGlyphs">-N</text><text x="966" y="719" textLength="76" lengthAdjust="spacingAndGlyphs">)/σ(N</text><text x="1067.5" y="719" textLength="10" lengthAdjust="spacingAndGlyphs">)</text></g>
<g font-size="22"><text x="866.5" y="703" textLength="18.5" lengthAdjust="spacingAndGlyphs">fit</text><text x="866.5" y="740" textLength="26.5" lengthAdjust="spacingAndGlyphs">tot</text><text x="926" y="703" textLength="39.5" lengthAdjust="spacingAndGlyphs">gen</text><text x="926" y="740" textLength="28" lengthAdjust="spacingAndGlyphs">tot</text><text x="1040.5" y="740" textLength="26.5" lengthAdjust="spacingAndGlyphs">tot</text></g>
<rect class="sb" x="732.5" y="69.5" width="405" height="174"/>
<g font-size="20" transform="translate(751.5,0) scale(1.07,1)"><text y="96">Mean</text><text y="130.8">Std Dev</text><text y="165.6">Constant</text><text y="200.4">Mean</text><text y="235.2">Sigma</text></g>
<g font-size="20" text-anchor="end" transform="translate(1116,0) scale(1.07,1)"><text y="96">−0.05134</text><text y="130.8">0.9773</text><text y="165.6">101.7<tspan dx="18">±</tspan><tspan dx="3">5.8</tspan></text><text y="200.4">−0.05581<tspan dx="10">±</tspan><tspan dx="3">0.04447</tspan></text><text y="235.2">0.9647<tspan dx="18">±</tspan><tspan dx="3">0.0337</tspan></text></g>
<text x="219" y="56.7" font-size="25.6" textLength="732" lengthAdjust="spacingAndGlyphs">Hessian matrix with squared weights [SumW2Error(true)]</text>
</g>

<!-- ============ PAD 9 ============ -->
<g transform="translate(2392,1544)">
<use href="#fr"/><use href="#xt"/>
<path class="tk" d="M177.5,657h27M177.5,553.87h27M177.5,450.74h27M177.5,347.62h27M177.5,244.49h27M177.5,141.36h27M177.5,631.22h13.5M177.5,605.44h13.5M177.5,579.65h13.5M177.5,528.09h13.5M177.5,502.31h13.5M177.5,476.53h13.5M177.5,424.96h13.5M177.5,399.18h13.5M177.5,373.4h13.5M177.5,321.84h13.5M177.5,296.05h13.5M177.5,270.27h13.5M177.5,218.71h13.5M177.5,192.93h13.5M177.5,167.15h13.5M177.5,115.58h13.5M177.5,89.8h13.5"/>
<path class="eb" d="M380,619.69V642.75M357.5,631.22h45M425,595.12V626.06M402.5,610.59h45M470,490.99V544.57M447.5,517.78h45M515,407.01V473.85M492.5,440.43h45M560,225.62V314.92M537.5,270.27h45M605,106.04V207.62M582.5,156.83h45M650,106.04V207.62M627.5,156.83h45M695,220.16V310.06M672.5,265.11h45M740,368.25V440.43M717.5,404.34h45M785,577.26V612.98M762.5,595.12h45M830,595.12V626.06M807.5,610.59h45M875,646.68V657M852.5,651.84h45M920,646.68V657M897.5,651.84h45"/>
<path class="mk" d="M380,631.22h0M425,610.59h0M470,517.78h0M515,440.43h0M560,270.27h0M605,156.83h0M650,156.83h0M695,265.11h0M740,404.34h0M785,595.12h0M830,610.59h0M875,651.84h0M920,651.84h0"/>
<g clip-path="url(#fc)"><path class="fit" transform="matrix(88.38,0,0,-514.2,621.62,657)" d="M-6,0L-5,0L-4.5,.00004L-4,.00034L-3.8,.00073L-3.6,.00153L-3.4,.00309L-3.2,.00598L-3,.01111L-2.9,.01492L-2.8,.01984L-2.7,.02612L-2.6,.03405L-2.5,.04394L-2.4,.05613L-2.3,.07101L-2.2,.08892L-2.1,.11025L-2,.13534L-1.9,.16447L-1.8,.1979L-1.7,.23575L-1.6,.27804L-1.5,.32465L-1.4,.37531L-1.3,.42956L-1.2,.48675L-1.1,.54607L-1,.60653L-.9,.66698L-.8,.72615L-.7,.7827L-.6,.83527L-.5,.8825L-.4,.92312L-.3,.956L-.2,.9802L-.1,.99501L0,1L.1,.99501L.2,.9802L.3,.956L.4,.92312L.5,.8825L.6,.83527L.7,.7827L.8,.72615L.9,.66698L1,.60653L1.1,.54607L1.2,.48675L1.3,.42956L1.4,.37531L1.5,.32465L1.6,.27804L1.7,.23575L1.8,.1979L1.9,.16447L2,.13534L2.1,.11025L2.2,.08892L2.3,.07101L2.4,.05613L2.5,.04394L2.6,.03405L2.7,.02612L2.8,.01984L2.9,.01492L3,.01111L3.2,.00598L3.4,.00309L3.6,.00153L3.8,.00073L4,.00034L4.5,.00004L5,0L6,0"/></g>
<g transform="translate(177.5,690) scale(1.12,1)" font-size="29" text-anchor="middle"><text x="0">−5</text><text x="80.36">−4</text><text x="160.71">−3</text><text x="241.07">−2</text><text x="321.43">−1</text><text x="401.79">0</text><text x="482.14">1</text><text x="562.5">2</text><text x="642.86">3</text><text x="723.21">4</text><text x="803.57">5</text></g>
<g transform="translate(172,0) scale(1.12,1)" font-size="30.5" text-anchor="end"><text y="667.9">0</text><text y="564.8">20</text><text y="461.6">40</text><text y="358.5">60</text><text y="255.4">80</text><text y="152.3">100</text></g>
<g font-size="30"><text x="768.5" y="719" textLength="98" lengthAdjust="spacingAndGlyphs">Pull (N</text><text x="893" y="719" textLength="35" lengthAdjust="spacingAndGlyphs">-N</text><text x="966" y="719" textLength="76" lengthAdjust="spacingAndGlyphs">)/σ(N</text><text x="1067.5" y="719" textLength="10" lengthAdjust="spacingAndGlyphs">)</text></g>
<g font-size="22"><text x="866.5" y="703" textLength="18.5" lengthAdjust="spacingAndGlyphs">fit</text><text x="866.5" y="740" textLength="26.5" lengthAdjust="spacingAndGlyphs">tot</text><text x="926" y="703" textLength="39.5" lengthAdjust="spacingAndGlyphs">gen</text><text x="926" y="740" textLength="28" lengthAdjust="spacingAndGlyphs">tot</text><text x="1040.5" y="740" textLength="26.5" lengthAdjust="spacingAndGlyphs">tot</text></g>
<rect class="sb" x="732.5" y="69.5" width="405" height="174"/>
<g font-size="20" transform="translate(751.5,0) scale(1.07,1)"><text y="96">Mean</text><text y="130.8">Std Dev</text><text y="165.6">Constant</text><text y="200.4">Mean</text><text y="235.2">Sigma</text></g>
<g font-size="20" text-anchor="end" transform="translate(1116,0) scale(1.07,1)"><text y="96">−0.05118</text><text y="130.8">0.9886</text><text y="165.6">99.72<tspan dx="18">±</tspan><tspan dx="3">5.70</tspan></text><text y="200.4">−0.06538<tspan dx="10">±</tspan><tspan dx="3">0.04592</tspan></text><text y="235.2">0.982<tspan dx="18">±</tspan><tspan dx="3">0.035</tspan></text></g>
<text x="230" y="60" font-size="31" textLength="734" lengthAdjust="spacingAndGlyphs">Asymptotically correct approach [Asymptotic(true)]</text>
</g>
</svg>
</body></html>
